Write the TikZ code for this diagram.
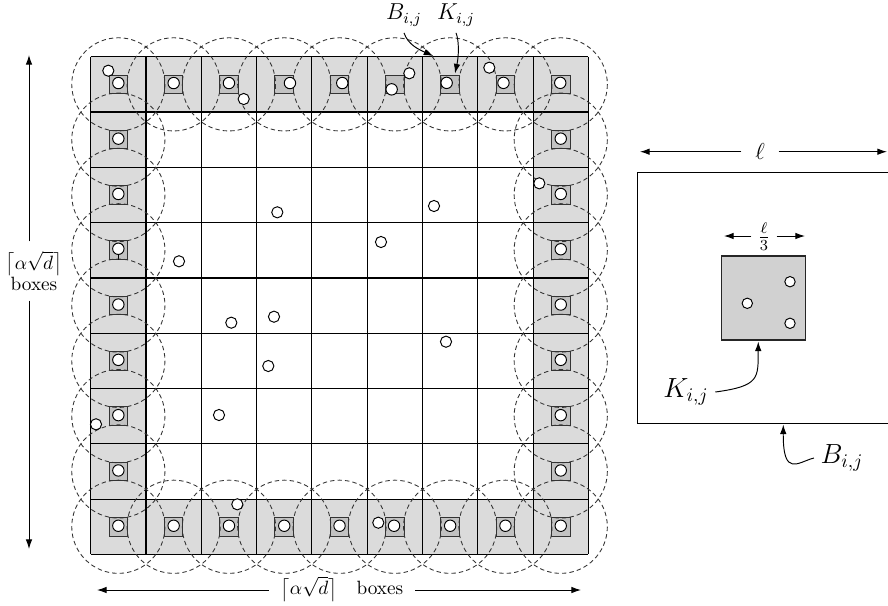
\documentclass[tikz,border=0pt]{standalone}
\usetikzlibrary{arrows.meta}
\begin{document}
\begin{tikzpicture}[x=0.52pt,y=-0.52pt,
  band/.style={fill=gray!28},
  kbox/.style={fill=gray!48,draw=black!80,line width=0.55pt},
  gridline/.style={line width=0.62pt},
  reach/.style={draw=black!80,dash pattern=on 2.3pt off 1.6pt,line width=0.45pt},
  pt/.style={fill=white,draw=black,line width=0.5pt},
  arr/.style={-{Latex[length=5pt,width=3.4pt]},line width=0.5pt},
  lab/.style={inner sep=2pt}]
\useasboundingbox (0,0) rectangle (888,605);

% perimeter band
\fill[band] (90.7,56.7) rectangle (588.4,554.4);
\fill[white] (146,112) rectangle (533.1,499.1);

% grid
\foreach \k in {0,...,9}{
  \draw[gridline] ({90.7+\k*55.3},56.7) -- ({90.7+\k*55.3},554.4);
  \draw[gridline] (90.7,{56.7+\k*55.3}) -- (588.4,{56.7+\k*55.3});
}

\def\perimcells{0/0,1/0,2/0,3/0,4/0,5/0,6/0,7/0,8/0,
  0/8,1/8,2/8,3/8,4/8,5/8,6/8,7/8,8/8,
  0/1,0/2,0/3,0/4,0/5,0/6,0/7,
  8/1,8/2,8/3,8/4,8/5,8/6,8/7}

% K boxes
\foreach \i/\j in \perimcells{
  \pgfmathsetmacro\cx{118.35+\i*55.3}
  \pgfmathsetmacro\cy{84.35+\j*55.3}
  \draw[kbox] ({\cx-9.3},{\cy-9.3}) rectangle ({\cx+9.3},{\cy+9.3});
}
\draw[line width=0.5pt] (118.3,255) -- (118.3,259.6);

% dashed reach circles
\foreach \i/\j in \perimcells{
  \pgfmathsetmacro\cx{118.35+\i*55.3}
  \pgfmathsetmacro\cy{84.35+\j*55.3}
  \draw[reach] (\cx,\cy) circle (46.6);
}

% points inside K boxes
\foreach \i/\j/\dx/\dy in {0/0/0/-1.3,1/0/0/-1.3,2/0/0/-1.3,3/0/5.7/-1.3,4/0/2.7/-1.3,
  5/0/-3.2/5,6/0/-3.5/-1.5,7/0/-2/-1.5,8/0/-0.5/-1.5,
  0/8/0/-1,1/8/0/-1,2/8/0/-1,3/8/0/-1,4/8/0/-1,5/8/-0.8/-1,6/8/0/-1,7/8/0/-1,8/8/0/-1,
  0/1/0/-1,0/2/0/-1,0/3/0/-1.5,0/4/0/-1,0/5/0/-1,0/6/0/-1,0/7/0/-1,
  8/1/0/-1,8/2/0/-1,8/3/0/-1,8/4/0/-1,8/5/0/-1,8/6/0/-1,8/7/0/-1}{
  \pgfmathsetmacro\cx{118.35+\i*55.3+\dx}
  \pgfmathsetmacro\cy{84.35+\j*55.3+\dy}
  \draw[pt] (\cx,\cy) circle (5.7);
}

% other points
\foreach \x/\y in {108.3/70.7,243.7/99,409.3/73.3,489.3/67.7,539.3/183.3,
  277.3/212.3,434/206,381/242,179/261.3,231.3/322.7,274/316.7,446/341.7,
  268.3/366,219/415,96/424.3,237.3/504.3,378.3/522.7}{
  \draw[pt] (\x,\y) circle (5.6);
}

% left dimension arrow
\coordinate (vt) at (29,55);
\coordinate (vb) at (29,549);
\node[lab,align=center,inner sep=5pt] (vlab) at (34,271) {$\bigl\lceil\alpha\sqrt{d}\bigr\rceil$\\[-1pt]boxes};
\draw[arr] (vt |- vlab.north) -- (vt);
\draw[arr] (vt |- vlab.south) -- (vb);

% bottom dimension arrow
\coordinate (hl) at (97,590);
\coordinate (hr) at (581,590);
\node[lab,inner sep=6pt] (hlab) at (342,589) {$\bigl\lceil\alpha\sqrt{d}\bigr\rceil$\quad boxes};
\draw[arr] (hlab.west |- hl) -- (hl);
\draw[arr] (hlab.east |- hr) -- (hr);

% top labels
\node (btop) at (404,15) {\large $B_{i,j}$};
\node (ktop) at (456,15) {\large $K_{i,j}$};
\coordinate (bt) at (433.3,56);
\coordinate (kt) at (455,73.5);
\draw[arr] (btop.south) .. controls (408,45) and (420,50) .. (bt);
\draw[arr] (ktop.south) .. controls (459,40) and (459,55) .. (kt);

% right panel
\draw[line width=0.65pt] (637.7,172.3) rectangle (888.8,423.3);
\draw[fill=gray!36,draw=black!85,line width=0.6pt] (721.7,256) rectangle (805.7,340);
\foreach \x/\y in {790/281.7,747.3/303.3,790/323.3}{
  \draw[pt] (\x,\y) circle (5.2);
}
\coordinate (ll) at (640,151.7);
\coordinate (lr) at (887,151.7);
\node[lab,inner sep=7pt] (ell) at (760,151) {\large $\ell$};
\draw[arr] (ell.west |- ll) -- (ll);
\draw[arr] (ell.east |- lr) -- (lr);

\coordinate (tl) at (724,236);
\coordinate (tr) at (805,236);
\node[lab,inner sep=3pt] (third) at (764,237) {\large $\frac{\ell}{3}$};
\draw[arr] (third.west |- tl) -- (tl);
\draw[arr] (third.east |- tr) -- (tr);

\node (kr) at (686,392) {\Large $K_{i,j}$};
\coordinate (kb) at (758.3,341.5);
\draw[arr] (kr.east) .. controls (760,386) and (758,378) .. (kb);

\node (br) at (842,458) {\Large $B_{i,j}$};
\coordinate (bb) at (783.3,424.5);
\draw[arr] (br.west) .. controls (798,462) and (783,478) .. (bb);
\end{tikzpicture}
\end{document}
